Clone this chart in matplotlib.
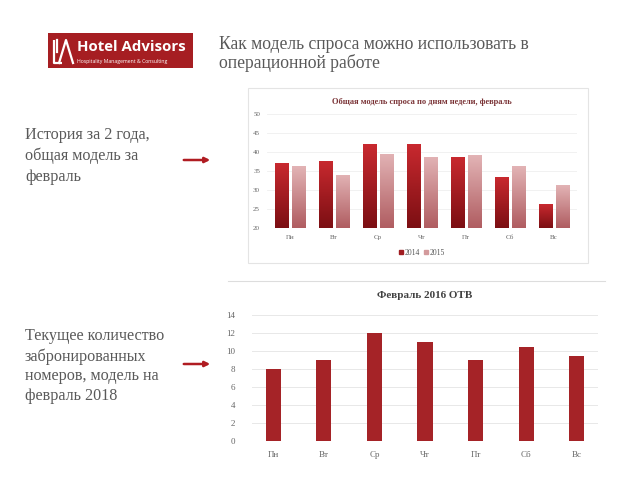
import numpy as np
import matplotlib
matplotlib.use('Agg')
import matplotlib.pyplot as plt
from matplotlib.patches import Rectangle, FancyArrowPatch

days = ['Пн', 'Вт', 'Ср', 'Чт', 'Пт', 'Сб', 'Вс']
demand_2014 = [37.0, 37.7, 42.0, 42.0, 38.6, 33.3, 26.3]
demand_2015 = [36.2, 34.0, 39.6, 38.7, 39.2, 36.2, 31.2]
otb_2016 = [8.0, 9.0, 12.0, 11.0, 9.0, 10.5, 9.4]
top_ticks = [20, 25, 30, 35, 40, 45, 50]
bottom_ticks = [0, 2, 4, 6, 8, 10, 12, 14]

SERIF = 'Liberation Serif'
GREY = '#595959'
W, H = 640, 480

fig = plt.figure(figsize=(6.4, 4.8), dpi=100)
fig.patch.set_facecolor('white')

# overlay in pixel coordinates for the slide furniture
ov = fig.add_axes([0, 0, 1, 1], zorder=0)
ov.set_xlim(0, W)
ov.set_ylim(H, 0)
ov.axis('off')

# logo
ov.add_patch(Rectangle((48, 33), 145, 35, facecolor='#a61e22', edgecolor='none'))
ov.plot([54, 54, 62], [40, 63, 63], color='white', lw=1.6, solid_capstyle='butt')
ov.plot([59, 66, 73], [63, 40, 63], color='white', lw=1.6)
ov.plot([57, 57], [40, 52], color='white', lw=1.6)
ov.text(77, 47, 'Hotel Advisors', color='white', fontsize=10.8, fontweight='bold',
        family='Open Sans', ha='left', va='center')
ov.text(77, 61, 'Hospitality Management & Consulting', color='white', fontsize=3.7,
        family='Open Sans', ha='left', va='center')

# header
ov.text(219, 54, 'Как модель спроса можно использовать в\nоперационной работе',
        fontsize=12.7, family=SERIF, color=GREY, ha='left', va='center', linespacing=1.05)

# left captions
ov.text(25, 156, 'История за 2 года,\nобщая модель за\nфевраль', fontsize=11.6,
        family=SERIF, color=GREY, ha='left', va='center', linespacing=1.35)
ov.text(25, 366, 'Текущее количество\nзабронированных\nномеров, модель на\nфевраль 2018',
        fontsize=11.6, family=SERIF, color=GREY, ha='left', va='center', linespacing=1.3)

for y in (160, 364):
    ov.add_patch(FancyArrowPatch((181, y), (213, y), arrowstyle='-|>,head_length=3,head_width=1.5',
                                 color='#b01c22', lw=1.8, mutation_scale=1))

# top chart frame
ov.add_patch(Rectangle((248, 88), 340, 175, facecolor='white', edgecolor='#e4e4e4', lw=0.8))
# separator above bottom chart
ov.plot([228, 605], [281, 281], color='#dddddd', lw=0.8)


def grad_bars(ax, bars, top_col, bot_col):
    cmap = matplotlib.colors.LinearSegmentedColormap.from_list('g', [bot_col, top_col])
    grad = np.linspace(0, 1, 64).reshape(-1, 1)
    for b in bars:
        x0, y0 = b.get_x(), b.get_y()
        im = ax.imshow(grad, extent=(x0, x0 + b.get_width(), y0, y0 + b.get_height()),
                       origin='lower', aspect='auto', cmap=cmap, zorder=2)
        im.set_clip_path(b)


# ---- top chart
ax1 = fig.add_axes([267 / W, 1 - 228 / H, 310 / W, 114 / H], zorder=2)
x = np.arange(len(days))
bw = 0.3
b1 = ax1.bar(x - 0.19, np.array(demand_2014) - 20, bw, bottom=20, facecolor='none',
             edgecolor='none', zorder=2)
b2 = ax1.bar(x + 0.19, np.array(demand_2015) - 20, bw, bottom=20, facecolor='none',
             edgecolor='none', zorder=2)
grad_bars(ax1, b1, '#c8292f', '#7c0f13')
grad_bars(ax1, b2, '#e2b3b5', '#b05d61')
ax1.set_xlim(-0.52, 6.52)
ax1.set_ylim(20, 50)
ax1.set_yticks(top_ticks)
ax1.set_xticks(x)
ax1.set_xticklabels(days)
ax1.yaxis.grid(True, color='#efefef', lw=0.6)
ax1.set_axisbelow(True)
for s in ax1.spines.values():
    s.set_visible(False)
ax1.tick_params(length=0, labelsize=5, labelcolor='#666666', pad=5)
for lab in ax1.get_xticklabels() + ax1.get_yticklabels():
    lab.set_family(SERIF)
ax1.set_title('Общая модель спроса по дням недели, февраль', fontsize=6, fontweight='bold',
              color='#7a3336', family=SERIF, pad=7)
leg = ax1.legend([Rectangle((0, 0), 1, 1, color='#a01c21'), Rectangle((0, 0), 1, 1, color='#d39a9c')],
                 ['2014', '2015'], loc='upper center', bbox_to_anchor=(0.5, -0.12), ncol=2,
                 frameon=False, handlelength=0.5, handleheight=0.5, handletextpad=0.2,
                 columnspacing=0.6, prop={'family': SERIF, 'size': 5.5})
for t in leg.get_texts():
    t.set_color('#555555')

# ---- bottom chart
ax2 = fig.add_axes([252 / W, 1 - 441 / H, 346 / W, 126 / H], zorder=2)
ax2.bar(x, otb_2016, 0.3, color='#a52327', zorder=2)
ax2.set_xlim(-0.42, 6.42)
ax2.set_ylim(0, 14)
ax2.set_yticks(bottom_ticks)
ax2.set_xticks(x)
ax2.set_xticklabels(days)
ax2.yaxis.grid(True, color='#e8e8e8', lw=0.7)
ax2.set_axisbelow(True)
for s in ax2.spines.values():
    s.set_visible(False)
ax2.tick_params(length=0, labelsize=6.5, labelcolor='#666666')
ax2.tick_params(axis='x', pad=7)
ax2.tick_params(axis='y', pad=12)
for lab in ax2.get_xticklabels() + ax2.get_yticklabels():
    lab.set_family(SERIF)
ax2.set_title('Февраль 2016 ОТВ', fontsize=8, fontweight='bold', color='#404040',
              family=SERIF, pad=12)

fig.savefig('out.png', dpi=100, facecolor='white')
